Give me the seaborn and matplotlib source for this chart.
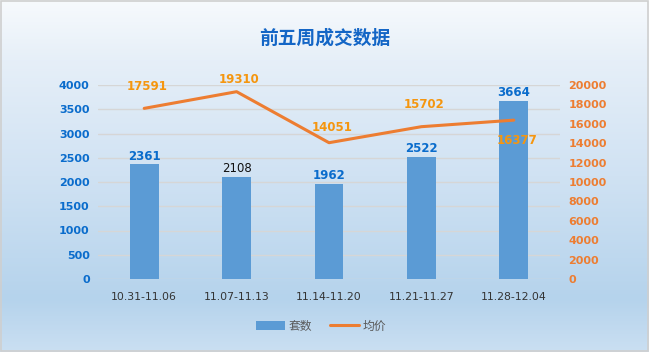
import numpy as np
import pandas as pd
import matplotlib
matplotlib.use('Agg')
import matplotlib.pyplot as plt
from matplotlib.colors import LinearSegmentedColormap
from matplotlib.patches import Rectangle
from matplotlib.lines import Line2D
from matplotlib.patches import Patch
import seaborn as sns

# data
weeks = ["10.31-11.06", "11.07-11.13", "11.14-11.20", "11.21-11.27", "11.28-12.04"]
units = [2361, 2108, 1962, 2522, 3664]
avg_price = [17591, 19310, 14051, 15702, 16377]
left_ticks = [0, 500, 1000, 1500, 2000, 2500, 3000, 3500, 4000]
right_ticks = [0, 2000, 4000, 6000, 8000, 10000, 12000, 14000, 16000, 18000, 20000]

# label styling (offsets in points, colours as in the original)
unit_label_colors = ["#0a6ccc", "#111111", "#0a6ccc", "#0a6ccc", "#0a6ccc"]
price_label_offsets = [16, 9, 11, 16, -15]

BAR = "#5b9bd5"
LINE = "#ed7d31"
BLUE_TXT = "#0a6ccc"
ORANGE_TXT = "#f5960f"

sns.set_theme(style="white")
plt.rcParams['font.family'] = ['DejaVu Sans', 'Noto Sans CJK SC']

fig = plt.figure(figsize=(6.49, 3.52), dpi=100)

# gradient background
bg = fig.add_axes([0, 0, 1, 1], zorder=-10)
cmap = LinearSegmentedColormap.from_list("bg", [
    (0.0, (247/255, 250/255, 253/255)),
    (0.17, (230/255, 239/255, 248/255)),
    (0.5, (208/255, 226/255, 243/255)),
    (0.85, (181/255, 211/255, 236/255)),
    (1.0, (202/255, 223/255, 242/255)),
])
bg.imshow(np.linspace(0, 1, 256).reshape(-1, 1), aspect='auto', cmap=cmap,
          extent=[0, 1, 0, 1], origin='upper')
bg.add_patch(Rectangle((0.001, 0.002), 0.997, 0.995, fill=False, edgecolor="#cfcfcf", lw=1.2))
bg.set_xlim(0, 1)
bg.set_ylim(0, 1)
bg.axis('off')

ax = fig.add_axes([98/649, 1 - 279/352, 462/649, 194/352])
ax.set_facecolor('none')

df = pd.DataFrame({"week": weeks, "units": units, "price": avg_price})
sns.barplot(data=df, x="week", y="units", color=BAR, width=0.31, saturation=1,
            edgecolor='none', linewidth=0, ax=ax, zorder=2)
ax.set_xlim(-0.5, len(weeks) - 0.5)
ax.set_ylim(0, 4000)
ax.set_yticks(left_ticks)
ax.yaxis.grid(True, color="#d6d6d6", lw=1)
ax.set_axisbelow(True)
ax.set_xlabel("")
ax.set_ylabel("")
for s in ax.spines.values():
    s.set_visible(False)
ax.tick_params(axis='y', length=0, pad=6, labelsize=8, labelcolor=BLUE_TXT)
ax.tick_params(axis='x', length=0, pad=9, labelsize=7.8, labelcolor="#333333")
for t in ax.get_yticklabels():
    t.set_fontweight('bold')

for i, v in enumerate(units):
    ax.annotate(str(v), (i, v), xytext=(0, 6), textcoords='offset points',
                ha='center', va='center', fontsize=8.5, color=unit_label_colors[i],
                fontweight='bold' if unit_label_colors[i] != "#111111" else 'normal')

ax2 = ax.twinx()
ax2.set_facecolor('none')
sns.lineplot(x=np.arange(len(weeks)), y=avg_price, color=LINE, lw=2.2, ax=ax2, zorder=3)
ax2.set_ylim(0, 20000)
ax2.set_yticks(right_ticks)
ax2.grid(False)
for s in ax2.spines.values():
    s.set_visible(False)
ax2.tick_params(axis='y', length=0, pad=6, labelsize=8, labelcolor=LINE)
for t in ax2.get_yticklabels():
    t.set_fontweight('bold')

for i, v in enumerate(avg_price):
    ax2.annotate(str(v), (i, v), xytext=(2, price_label_offsets[i]), textcoords='offset points',
                 ha='center', va='center', fontsize=8.5, color=ORANGE_TXT, fontweight='bold')

fig.text(324.5/649, 1 - 38/352, "前五周成交数据", ha='center', va='center',
         fontsize=13.5, fontweight='bold', color="#1466c6", family=['Noto Sans CJK SC'])

handles = [Patch(facecolor=BAR, edgecolor='none'),
           Line2D([0], [0], color=LINE, lw=2.2)]
leg = fig.legend(handles, ["套数", "均价"], loc='center', bbox_to_anchor=(321/649, 1 - 326/352),
                 ncol=2, frameon=False, handlelength=2.4, handleheight=0.7,
                 columnspacing=1.6, handletextpad=0.3,
                 prop={'family': ['Noto Sans CJK SC'], 'size': 8.5})
for t in leg.get_texts():
    t.set_color("#595959")

fig.savefig("out.png", dpi=100)
